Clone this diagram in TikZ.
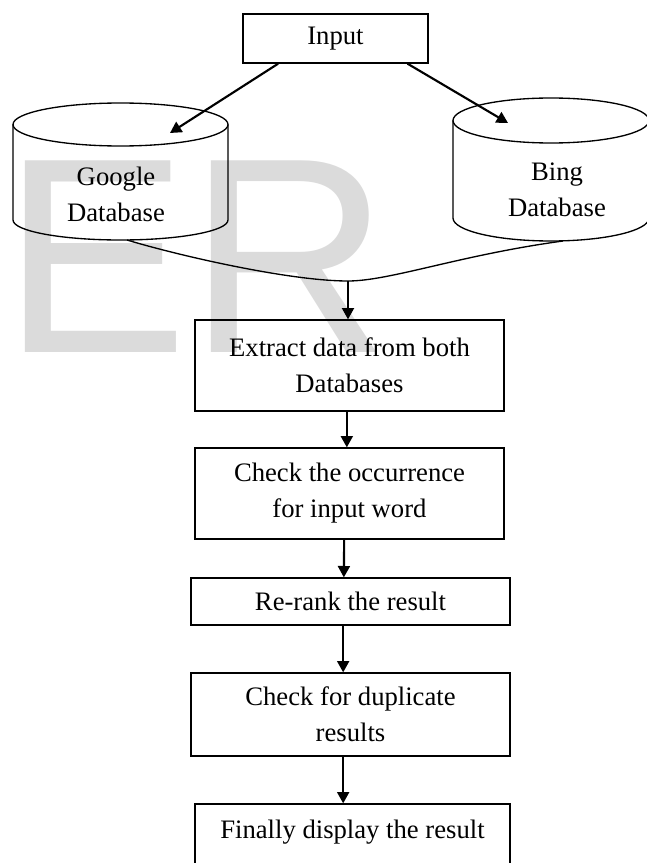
\documentclass[tikz,border=0pt]{standalone}
\usepackage{xcolor}
\usepackage{fontspec}
\setmainfont{Liberation Serif}
\newfontfamily\wmfont{Liberation Sans}
\usepackage{tikz}
\usetikzlibrary{arrows.meta}

\tikzset{
  flowbox/.style={draw, line width=1pt, align=center, inner sep=0.75pt, font=\fontsize{20}{27}\selectfont},
  dbtext/.style={align=center, inner sep=0.75pt, font=\fontsize{20}{27}\selectfont},
  dbline/.style={line width=1pt},
  flowarrow/.style={line width=1.6pt, -{Triangle[length=8.5pt,width=9pt]}},
}

\begin{document}
\begin{tikzpicture}[x=0.75pt,y=0.75pt,yscale=-1,xscale=1]
\useasboundingbox (0,0) rectangle (646,863);

% Watermark
\node [anchor=base west, inner sep=0pt, text=black!14, font=\wmfont\fontsize{209}{209}\selectfont] (watermark) at (2,352) {ER};

%Shape: Cylinder [Google]
\draw [dbline] (120.5,124.5) ellipse [x radius=107.5, y radius=21.5];
\draw [dbline] (13,124.5) -- (13,220) arc [start angle=180, end angle=0, x radius=107.5, y radius=20] -- (228,124.5);
%Shape: Cylinder [Bing]
\draw [dbline] (551,120.5) ellipse [x radius=98, y radius=22.5];
\draw [dbline] (453,120.5) -- (453,218) arc [start angle=180, end angle=0, x radius=98, y radius=23] -- (649,120.5);

% Text Node
\node [dbtext] (google) at (116,194) {Google\\Database};
% Text Node
\node [dbtext] (bing) at (557,189.5) {Bing\\Database};

% Boxes
\node [flowbox, minimum width=138.75pt, minimum height=36.75pt] (input) at (335.5,38.5) {Input};
\node [flowbox, minimum width=231.75pt, minimum height=68.25pt] (extract) at (349.5,365.5) {Extract data from both\\Databases};
\node [flowbox, minimum width=231.75pt, minimum height=68.25pt] (check) at (349.5,493.5) {Check the occurrence\\for input word};
\node [flowbox, minimum width=239.25pt, minimum height=35.25pt] (rerank) at (350.5,601.5) {Re-rank the result};
\node [flowbox, minimum width=239.25pt, minimum height=62.25pt] (dup) at (350.5,714.5) {Check for duplicate\\results};
\node [flowbox, minimum width=236.25pt, minimum height=64.5pt] (final) at (352.5,847) {Finally display the result\\ \mbox{}};

% Connector ends
\coordinate (gtop) at (170,133);
\coordinate (btop) at (508,123);
\coordinate (gbot) at (127,240);
\coordinate (bbot) at (563,241);
\coordinate (join) at (348,281);

%Curve Lines
\draw [dbline] (gbot) .. controls (180,256) and (290,281) .. (join) .. controls (390,281) and (460,255) .. (bbot);

%Straight Lines
\draw [flowarrow] ([xshift=-43pt]input.south) -- (gtop);
\draw [flowarrow] ([xshift=54pt]input.south) -- (btop);
\draw [flowarrow] (join) -- (join |- extract.north);
\draw [flowarrow] ([xshift=-2pt]extract.south) -- ([xshift=-2pt]check.north);
\draw [flowarrow] ([xshift=-4pt]check.south) -- ([xshift=-5pt]rerank.north);
\draw [flowarrow] ([xshift=-5.5pt]rerank.south) -- ([xshift=-5.5pt]dup.north);
\draw [flowarrow] ([xshift=-5.5pt]dup.south) -- ([xshift=-7pt]final.north);

\end{tikzpicture}
\end{document}
